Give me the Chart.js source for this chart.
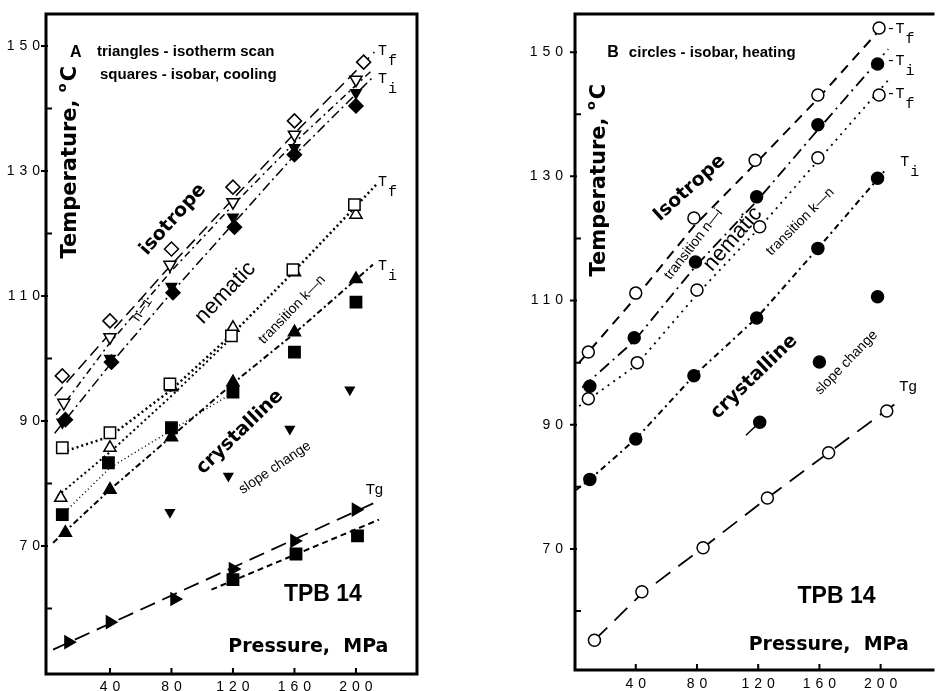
<!DOCTYPE html>
<html>
<head>
<title>TPB 14 - transition temperatures vs pressure</title>
<script src="https://cdn.jsdelivr.net/npm/chart.js"></script>
<style>
  html, body { margin: 0; padding: 0; background: #fff; overflow: hidden; }
  .panel { position: absolute; top: 0; }
  #panelA { left: 0; }
  #panelB { left: 471px; }
</style>
</head>
<body>
<canvas id="panelA" class="panel" width="471" height="691"></canvas>
<canvas id="panelB" class="panel" width="471" height="691"></canvas>
<script>
// ---- values: pressure (MPa) / temperature (oC) ----
const xTicks = [40, 80, 120, 160, 200];
const yTicks = [70, 90, 110, 130, 150];
const yMinor = [60, 80, 100, 120, 140];

// panel A: triangles - isotherm scan, squares - isobar cooling, diamonds
const aDiamondOpenP = [9, 40, 80, 120, 160, 205];
const aDiamondOpenT = [97.2, 106, 117.5, 127.4, 138, 147.4];
const aTriDownOpenP = [10, 40, 79, 120, 160, 200];
const aTriDownOpenT = [92.9, 103.4, 115, 125, 135.8, 144.6];
const aDiamondFillP = [11, 41, 81, 121, 160, 200];
const aDiamondFillT = [90.2, 99.4, 110.5, 121, 132.6, 140.4];
const aTriDownFillP = [9, 40, 80, 120, 160, 200];
const aTriDownFillT = [89.8, 100, 111.5, 122.6, 133.7, 142.5];
const aSquareOpenP = [9, 40, 79, 119, 159, 199];
const aSquareOpenT = [85.7, 88.1, 95.9, 103.6, 114.2, 124.6];
const aTriUpOpenP = [8, 40, 80, 120, 160, 200];
const aTriUpOpenT = [77.7, 85.7, 95.4, 104.9, 113.8, 123];
const aTriUpFillP = [11, 40, 80, 120, 160, 200];
const aTriUpFillT = [72.1, 79, 87.4, 96.2, 104.2, 112.7];
const aSquareFillP = [9, 39, 80, 120, 160, 200];
const aSquareFillT = [75, 83.3, 88.9, 94.6, 101, 109];
const aSlopeP = [79, 117, 157, 196];
const aSlopeT = [75.4, 81.2, 88.7, 95];
const aTgTriP = [13, 40, 82, 120, 160, 200];
const aTgTriT = [54.6, 57.8, 61.5, 66.3, 70.8, 75.8];
const aTgSquareP = [120, 161, 201];
const aTgSquareT = [64.6, 68.7, 71.6];

// panel A guide lines
const aLineTfIsoP = [4, 40, 80, 120, 160, 212];
const aLineTfIsoT = [94, 104, 115, 125.5, 136, 149];
const aLineNiP = [5, 40, 80, 120, 160, 210];
const aLineNiT = [91, 102.5, 114, 124.5, 134.5, 146];
const aLineTiIsoP = [4, 40, 80, 120, 160, 211];
const aLineTiIsoT = [88, 99, 110.5, 121.5, 132.5, 145];
const aLineTfNemP = [9, 40, 80, 120, 160, 214];
const aLineTfNemT = [85, 87.5, 95, 104, 114, 128];
const aLineTriOpenP = [6, 40, 80, 120];
const aLineTriOpenT = [78, 85, 94, 103.5];
const aLineTiCrP = [3, 40, 80, 120, 160, 211];
const aLineTiCrT = [70.5, 79, 87.5, 96, 104, 115];
const aLineSqFillP = [9, 40, 80, 120];
const aLineSqFillT = [75, 82.5, 88.5, 94.5];
const aLineTgP = [3, 213];
const aLineTgT = [53.4, 77];
const aLineTgSqP = [106, 215];
const aLineTgSqT = [63, 74.2];

// panel B: circles - isobar, heating
const bTfIsoP = [9, 40, 78, 118, 159, 199];
const bTfIsoT = [101.7, 111.2, 123.3, 132.6, 143.1, 153.9];
const bTiIsoP = [10, 39, 79, 119, 159, 198];
const bTiIsoT = [96.2, 104, 116.2, 126.7, 138.3, 148.1];
const bTfNemP = [9, 41, 80, 121, 159, 199];
const bTfNemT = [94.2, 100, 111.7, 121.9, 133, 143.1];
const bTiCrP = [10, 40, 78, 119, 159, 198];
const bTiCrT = [81.2, 87.7, 97.9, 107.2, 118.4, 129.7];
const bSlopeP = [121, 160, 198];
const bSlopeT = [90.4, 100.1, 110.6];
const bTgP = [13, 44, 84, 126, 166, 204];
const bTgT = [55.3, 63.1, 70.2, 78.2, 85.5, 92.2];

// panel B guide lines
const bLineTfIsoP = [3, 40, 78, 118, 159, 199];
const bLineTfIsoT = [100, 110.5, 122, 132, 142.5, 153.5];
const bLineTiIsoP = [5, 39, 79, 119, 159, 205];
const bLineTiIsoT = [96, 103.5, 115.5, 126, 137.5, 150.5];
const bLineTfNemP = [3, 40, 80, 120, 159, 205];
const bLineTfNemT = [93, 99.5, 111, 121.5, 132.5, 145.5];
const bLineTiCrP = [1, 10, 40, 78, 119, 159, 203];
const bLineTiCrT = [79.5, 81.2, 87.7, 97.9, 107.2, 118.4, 131];
const bLineTgP = [13, 44, 84, 126, 166, 213];
const bLineTgT = [55.3, 62.8, 70.2, 78.2, 85.5, 94];
const bLineSlopeP = [112, 121];
const bLineSlopeT = [88.3, 90.4];

const pts = (P, T) => P.map((p, i) => ({ x: p, y: T[i] }));

function markers(P, T, style, filled, radius, rotation) {
  return {
    data: pts(P, T),
    showLine: false,
    pointStyle: style,
    pointRotation: rotation || 0,
    pointRadius: radius,
    pointBackgroundColor: filled ? "#000" : "#fff",
    pointBorderColor: "#000",
    pointBorderWidth: 1.5,
    order: 1,
  };
}

function guide(P, T, dash, width) {
  return {
    data: pts(P, T),
    showLine: true,
    borderColor: "#000",
    borderWidth: width || 1.5,
    borderDash: dash,
    pointRadius: 0,
    fill: false,
    order: 2,
  };
}

// frame, ticks, tick labels and annotations
const framePlugin = {
  id: "frame",
  afterDraw(chart, args, opts) {
    const { ctx, chartArea: a } = chart;
    const x = chart.scales.x, y = chart.scales.y;
    ctx.save();
    ctx.strokeStyle = "#000";
    ctx.lineWidth = 3;
    ctx.beginPath();
    if (opts.closed) {
      ctx.rect(a.left, a.top, a.right - a.left, a.bottom - a.top);
    } else {
      ctx.moveTo(a.right, a.top);
      ctx.lineTo(a.left, a.top);
      ctx.lineTo(a.left, a.bottom);
      ctx.lineTo(a.right, a.bottom);
    }
    ctx.stroke();

    ctx.lineWidth = 2;
    ctx.beginPath();
    yTicks.forEach((v) => {
      const py = y.getPixelForValue(v);
      ctx.moveTo(a.left - 5, py);
      ctx.lineTo(a.left + 2, py);
    });
    yMinor.forEach((v) => {
      const py = y.getPixelForValue(v);
      ctx.moveTo(a.left, py);
      ctx.lineTo(a.left + 6, py);
    });
    xTicks.forEach((v) => {
      const px = x.getPixelForValue(v);
      ctx.moveTo(px, a.bottom);
      ctx.lineTo(px, a.bottom - 6);
    });
    ctx.stroke();

    ctx.fillStyle = "#000";
    ctx.font = '14px "Liberation Sans"';
    ctx.letterSpacing = "5px";
    ctx.textBaseline = "middle";
    ctx.textAlign = "right";
    yTicks.forEach((v) => {
      ctx.fillText(String(v), a.left - opts.yGap + 5, y.getPixelForValue(v));
    });
    ctx.textAlign = "center";
    xTicks.forEach((v) => {
      ctx.fillText(String(v), x.getPixelForValue(v) + 2.5, a.bottom + opts.xGap);
    });
    ctx.letterSpacing = "0px";

    // rotated axis title with raised small "o"
    const t = opts.title;
    ctx.translate(x.getPixelForValue(t.p), y.getPixelForValue(t.t));
    ctx.rotate(-Math.PI / 2);
    const big = 'bold 21px "DejaVu Sans"', small = 'bold 13px "DejaVu Sans"';
    ctx.font = big;
    const w1 = ctx.measureText("Temperature, ").width;
    const w3 = ctx.measureText("C").width;
    ctx.font = small;
    const w2 = ctx.measureText("o").width + 2;
    let sx = -(w1 + w2 + w3) / 2;
    ctx.textAlign = "left";
    ctx.font = big;
    ctx.fillText("Temperature, ", sx, 0);
    ctx.font = small;
    ctx.fillText("o", sx + w1, -8);
    ctx.font = big;
    ctx.fillText("C", sx + w1 + w2, 0);
    ctx.restore();

    (opts.notes || []).forEach((n) => {
      ctx.save();
      ctx.translate(x.getPixelForValue(n.p), y.getPixelForValue(n.t));
      ctx.rotate(((n.rot || 0) * Math.PI) / 180);
      ctx.font = n.font;
      ctx.fillStyle = "#000";
      ctx.textAlign = n.align || "center";
      ctx.textBaseline = "middle";
      ctx.fillText(n.text, 0, 0);
      if (n.sub) {
        const w = ctx.measureText(n.text).width;
        ctx.textAlign = "left";
        ctx.fillText(n.sub, w + 1, 10);
      }
      ctx.restore();
    });
  },
};

const mono = '15px "Liberation Mono"';
const notesA = [
  { text: "A", p: 14, t: 149, font: 'bold 16px "Liberation Sans"', align: "left" },
  { text: "triangles - isotherm scan", p: 31.5, t: 149, font: 'bold 15px "Liberation Sans"', align: "left" },
  { text: "squares - isobar, cooling", p: 33.5, t: 145.4, font: 'bold 15px "Liberation Sans"', align: "left" },
  { text: "isotrope", p: 81, t: 122.2, rot: -48, font: 'bold 19px "DejaVu Sans"' },
  { text: "nematic", p: 115, t: 110.5, rot: -46, font: '22px "Liberation Sans"' },
  { text: "n\u2014i", p: 61, t: 107.8, rot: -57, font: '14px "Liberation Mono"' },
  { text: "transition k\u2014n", p: 158.5, t: 107.8, rot: -46, font: '14px "Liberation Sans"' },
  { text: "crystalline", p: 124.6, t: 88.2, rot: -44, font: 'bold 19px "DejaVu Sans"' },
  { text: "slope change", p: 147.3, t: 82.5, rot: -34, font: '14px "Liberation Sans"' },
  { text: "Tg", p: 212, t: 79, font: '15px "Liberation Sans"' },
  { text: "TPB 14", p: 178.5, t: 62.2, font: 'bold 23px "Liberation Sans"' },
  { text: "Pressure,  MPa", p: 169, t: 53.8, font: 'bold 19px "DejaVu Sans"' },
  { text: "T", sub: "f", p: 214.3, t: 149.2, font: mono, align: "left" },
  { text: "T", sub: "i", p: 214.3, t: 144.7, font: mono, align: "left" },
  { text: "T", sub: "f", p: 214.3, t: 128.2, font: mono, align: "left" },
  { text: "T", sub: "i", p: 214.3, t: 114.8, font: mono, align: "left" },
];

const notesB = [
  { text: "B", p: 21.4, t: 149.9, font: 'bold 16px "Liberation Sans"', align: "left" },
  { text: "circles - isobar, heating", p: 35.5, t: 149.9, font: 'bold 15px "Liberation Sans"', align: "left" },
  { text: "Isotrope", p: 75.2, t: 128.1, rot: -42, font: 'bold 19px "DejaVu Sans"' },
  { text: "transition n\u2014i", p: 77.8, t: 119.1, rot: -52, font: '14px "Liberation Sans"' },
  { text: "nematic", p: 103.4, t: 119.9, rot: -49, font: '22px "Liberation Sans"' },
  { text: "transition k\u2014n", p: 147.5, t: 122.7, rot: -45, font: '14px "Liberation Sans"' },
  { text: "crystalline", p: 117.4, t: 97.7, rot: -44, font: 'bold 19px "DejaVu Sans"' },
  { text: "slope change", p: 177.6, t: 100, rot: -46, font: '14px "Liberation Sans"' },
  { text: "Tg", p: 217.9, t: 96.1, font: '15px "Liberation Sans"' },
  { text: "TPB 14", p: 171.2, t: 62.3, font: 'bold 23px "Liberation Sans"' },
  { text: "Pressure,  MPa", p: 166.1, t: 54.5, font: 'bold 19px "DejaVu Sans"' },
  { text: "-T", sub: "f", p: 203.8, t: 153.7, font: mono, align: "left" },
  { text: "-T", sub: "i", p: 203.8, t: 148.6, font: mono, align: "left" },
  { text: "-T", sub: "f", p: 203.8, t: 143.3, font: mono, align: "left" },
  { text: "T", sub: "i", p: 212.8, t: 132.3, font: mono, align: "left" },
];

function makeChart(id, datasets, padding, xRange, yRange, frameOpts) {
  return new Chart(document.getElementById(id), {
    type: "scatter",
    data: { datasets },
    options: {
      responsive: false,
      animation: false,
      events: [],
      layout: { padding },
      plugins: { legend: { display: false }, tooltip: { enabled: false }, frame: frameOpts },
      scales: {
        x: { type: "linear", min: xRange[0], max: xRange[1], display: false },
        y: { type: "linear", min: yRange[0], max: yRange[1], display: false },
      },
    },
    plugins: [framePlugin],
  });
}

makeChart(
  "panelA",
  [
    markers(aDiamondOpenP, aDiamondOpenT, "rectRot", false, 7),
    markers(aTriDownOpenP, aTriDownOpenT, "triangle", false, 7, 180),
    markers(aDiamondFillP, aDiamondFillT, "rectRot", true, 7),
    markers(aTriDownFillP, aTriDownFillT, "triangle", true, 6, 180),
    markers(aSquareOpenP, aSquareOpenT, "rect", false, 8),
    markers(aTriUpOpenP, aTriUpOpenT, "triangle", false, 7),
    markers(aTriUpFillP, aTriUpFillT, "triangle", true, 7),
    markers(aSquareFillP, aSquareFillT, "rect", true, 8),
    markers(aSlopeP, aSlopeT, "triangle", true, 5, 180),
    markers(aTgTriP, aTgTriT, "triangle", true, 7, 90),
    markers(aTgSquareP, aTgSquareT, "rect", true, 8),
    guide(aLineTfIsoP, aLineTfIsoT, [12, 6]),
    guide(aLineNiP, aLineNiT, [7, 4, 2, 4]),
    guide(aLineTiIsoP, aLineTiIsoT, [10, 4, 2, 4]),
    guide(aLineTfNemP, aLineTfNemT, [2, 3], 2.5),
    guide(aLineTriOpenP, aLineTriOpenT, [2, 3], 2),
    guide(aLineTiCrP, aLineTiCrT, [6, 3, 2, 3], 2),
    guide(aLineSqFillP, aLineSqFillT, [1, 3], 1.5),
    guide(aLineTgP, aLineTgT, [16, 8], 1.8),
    guide(aLineTgSqP, aLineTgSqT, [6, 4], 2),
  ],
  { left: 46, right: 54, top: 14, bottom: 17 },
  [-1.6, 239.7],
  [49.5, 155.1],
  { closed: true, yGap: 6, xGap: 13, title: { p: 14.6, t: 131.4 }, notes: notesA }
);

makeChart(
  "panelB",
  [
    markers(bTfIsoP, bTfIsoT, "circle", false, 6),
    markers(bTiIsoP, bTiIsoT, "circle", true, 6),
    markers(bTfNemP, bTfNemT, "circle", false, 6),
    markers(bTiCrP, bTiCrT, "circle", true, 6),
    markers(bSlopeP, bSlopeT, "circle", true, 6),
    markers(bTgP, bTgT, "circle", false, 6),
    guide(bLineTfIsoP, bLineTfIsoT, [10, 7], 2),
    guide(bLineTiIsoP, bLineTiIsoT, [12, 5, 2, 5], 1.8),
    guide(bLineTfNemP, bLineTfNemT, [2, 5], 1.8),
    guide(bLineTiCrP, bLineTiCrT, [6, 4, 2, 4], 2),
    guide(bLineTgP, bLineTgT, [18, 10], 1.8),
    guide(bLineSlopeP, bLineSlopeT, [], 1.5),
  ],
  { left: 104, right: 0, top: 14, bottom: 21 },
  [0.3, 235.2],
  [50.5, 156.15],
  { closed: false, yGap: 12, xGap: 14, title: { p: 16.3, t: 129.4 }, notes: notesB }
);
</script>
</body>
</html>
